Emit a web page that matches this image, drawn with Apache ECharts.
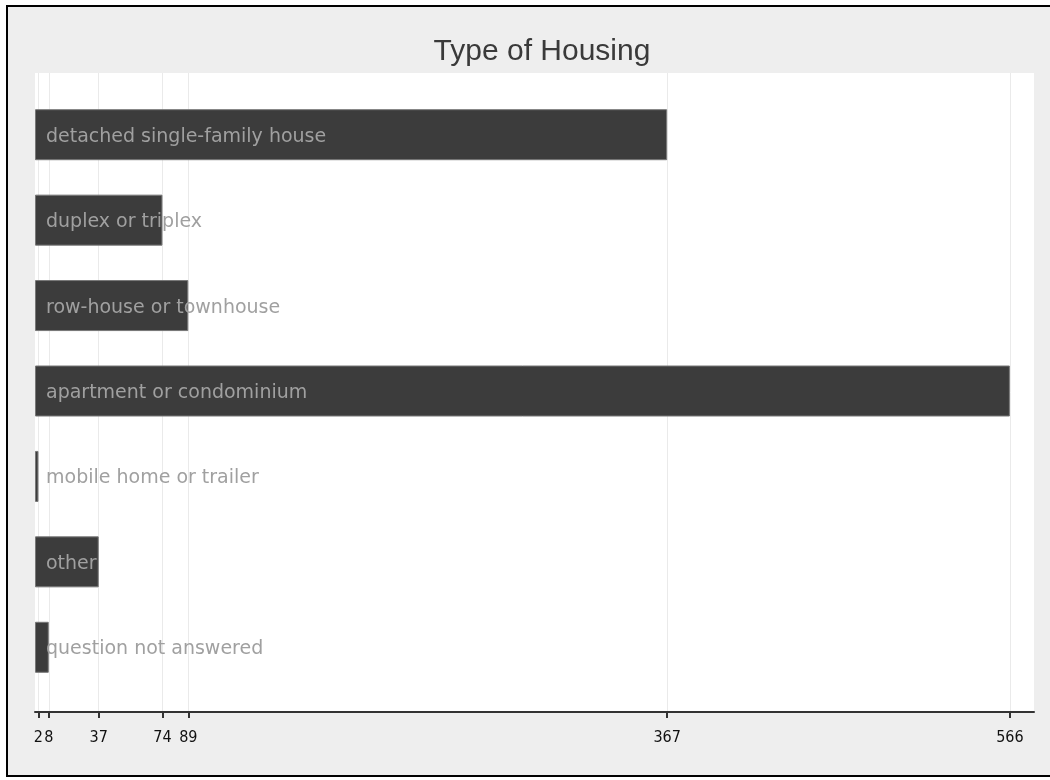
<!DOCTYPE html>
<html>
<head>
<meta charset="utf-8">
<script src="https://cdn.jsdelivr.net/npm/echarts@6/dist/echarts.min.js"></script>
<style>
  html, body { margin: 0; padding: 0; background: #fff; overflow: hidden; }
  /* grey page with a black frame; right edge runs off the picture */
  #frame {
    position: absolute; left: 6px; top: 5px; width: 1060px; height: 772px;
    border: 2px solid #000; background: #eeeeee; box-sizing: border-box;
  }
  #main { position: absolute; left: 0; top: 0; width: 1050px; height: 780px; }
</style>
</head>
<body>
<div id="frame"></div>
<div id="main"></div>
<script>
// housing types, top to bottom
const categories = [
  'detached single-family house',
  'duplex or triplex',
  'row-house or townhouse',
  'apartment or condominium',
  'mobile home or trailer',
  'other',
  'question not answered'
];
const counts = [367, 74, 89, 566, 2, 37, 8];
// the axis only marks the bar values
const tickValues = [2, 8, 37, 74, 89, 367, 566];

const X_MAX = 580;
const BAR_COLOR = '#3c3c3c';
const LABEL_COLOR = '#a0a0a0';

const chart = echarts.init(document.getElementById('main'));

const option = {
  backgroundColor: 'transparent',
  animation: false,
  title: {
    text: 'Type of Housing',
    left: 537,
    textAlign: 'center',
    top: 32,
    textStyle: {
      fontFamily: 'Liberation Sans',
      fontWeight: 'normal',
      fontSize: 30,
      color: '#3a3a3a'
    }
  },
  grid: [
    // white plot region + gridlines + axis
    { left: 35, right: 16, top: 73, bottom: 68, show: true, backgroundColor: '#fff', borderWidth: 0 },
    // bars
    { left: 35, right: 16, top: 92, bottom: 90 }
  ],
  xAxis: [
    {
      gridIndex: 0,
      type: 'value',
      min: 0,
      max: X_MAX,
      axisLine: { show: true, lineStyle: { color: '#333', width: 2 } },
      axisTick: { show: true, customValues: tickValues, length: 6, lineStyle: { color: '#333', width: 2 } },
      axisLabel: {
        customValues: tickValues,
        margin: 18,
        fontSize: 16,
        fontFamily: "'Liberation Sans Narrow', 'DejaVu Sans Condensed', sans-serif",
        color: '#111'
      },
      splitLine: { show: true, lineStyle: { color: '#eaeaea', width: 1 } }
    },
    {
      gridIndex: 1,
      type: 'value',
      min: 0,
      max: X_MAX,
      show: false,
      splitLine: { show: false }
    }
  ],
  yAxis: [
    { gridIndex: 0, type: 'category', data: categories, inverse: true, show: false },
    { gridIndex: 1, type: 'category', data: categories, inverse: true, show: false }
  ],
  series: [
    {
      type: 'bar',
      xAxisIndex: 1,
      yAxisIndex: 1,
      data: counts,
      barWidth: 51,
      itemStyle: { color: BAR_COLOR, borderColor: '#777', borderWidth: 1 },
      label: {
        show: true,
        position: 'insideLeft',
        distance: 11,
        offset: [0, 2],
        formatter: (p) => p.name,
        color: LABEL_COLOR,
        fontFamily: 'DejaVu Sans',
        fontSize: 19
      }
    }
  ]
};

chart.setOption(option);
</script>
</body>
</html>
